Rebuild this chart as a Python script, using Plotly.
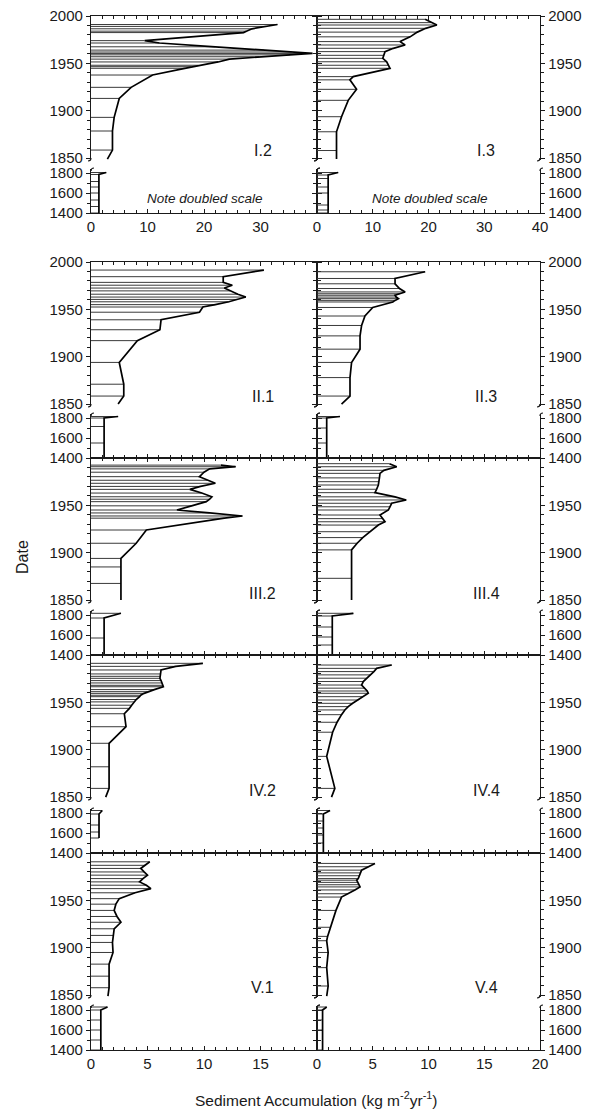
import plotly.graph_objects as go

# page is 592x1112; the html body has an 8px margin, so the figure is drawn 8px in
W, H = 592, 1112
OFF = 8
FW, FH = W - OFF, H - OFF

# ---------------- data (Date vs sediment accumulation, kg m-2 yr-1) ----------------
I2_up_dates = [1991, 1989, 1986.5, 1984, 1982.5, 1974, 1971.5, 1967.5, 1964, 1962, 1960.5, 1959, 1957,
               1954.5, 1951.5, 1948, 1946.5, 1944.8, 1937.7, 1924.7, 1913, 1893, 1878.6, 1858.5, 1849]
I2_up_vals = [33.0, 31.0, 28.5, 27.5, 27.0, 9.5, 12.1, 22.0, 30.6, 35.5, 39.2, 35.2, 29.8,
              24.5, 22.5, 19.0, 17.8, 16.6, 10.9, 7.1, 5.0, 4.1, 3.8, 3.8, 2.9]
I2_lo_dates = [1805, 1785, 1715, 1660, 1600, 1530, 1465, 1400]
I2_lo_vals = [2.7, 1.4, 1.4, 1.4, 1.4, 1.4, 1.4, 1.4]

I3_up_dates = [1996.5, 1993, 1990.5, 1987, 1983, 1978, 1973, 1969.4, 1965.9, 1962.4, 1958.5, 1955.3,
               1951.7, 1948, 1944.8, 1936, 1932.6, 1922.6, 1911, 1893.7, 1877.8, 1858, 1849]
I3_up_vals = [19.4, 20.5, 21.5, 19.5, 18.0, 16.7, 14.9, 15.8, 13.7, 12.2, 12.0, 11.8,
              12.5, 12.8, 13.1, 6.5, 5.9, 7.1, 5.6, 4.4, 3.5, 3.5, 3.5]
I3_lo_dates = [1805, 1780, 1745, 1660, 1600, 1480, 1430, 1400]
I3_lo_vals = [3.8, 2.0, 2.0, 2.0, 2.0, 2.0, 2.0, 2.0]

II1_up_dates = [1991.5, 1984.5, 1978.5, 1975.5, 1972.5, 1969.5, 1966, 1963, 1960.5, 1958, 1955,
                1952.5, 1947, 1939, 1928.5, 1917, 1894, 1871, 1858.5, 1850]
II1_up_vals = [15.3, 11.7, 11.7, 12.5, 11.8, 12.3, 13.0, 13.7, 13.0, 12.2, 11.0,
               9.9, 9.6, 6.2, 6.1, 4.1, 2.5, 2.9, 2.9, 2.4]
II1_lo_dates = [1815, 1800, 1715, 1550, 1400]
II1_lo_vals = [2.4, 1.16, 1.16, 1.16, 1.16]

II3_up_dates = [1989.7, 1982.6, 1977, 1972, 1968.4, 1966.5, 1964.9, 1963, 1961.3, 1959.5, 1957.8,
                1952, 1943, 1933, 1922, 1908, 1894, 1878, 1858.5, 1850]
II3_up_vals = [9.7, 7.0, 7.0, 7.4, 7.9, 7.4, 7.0, 7.1, 7.3, 7.0, 6.8,
               5.0, 4.3, 4.0, 3.86, 3.86, 3.1, 2.96, 2.96, 2.2]
II3_lo_dates = [1815, 1800, 1700, 1550, 1400]
II3_lo_vals = [2.06, 0.87, 0.87, 0.87, 0.87]

III2_up_dates = [1992.5, 1990.8, 1988.5, 1985, 1980.3, 1976.5, 1973.3, 1970, 1966.9, 1963, 1959.1,
                 1956.5, 1953.9, 1949.5, 1945.1, 1942, 1938.8, 1936.5, 1924, 1910, 1894, 1885,
                 1867.6, 1850]
III2_up_vals = [11.5, 12.8, 10.5, 10.0, 9.6, 10.3, 11.0, 9.7, 8.75, 9.8, 10.7,
                10.5, 10.2, 8.9, 7.6, 10.5, 13.4, 11.8, 4.9, 4.0, 2.65, 2.65,
                2.65, 2.65]
III2_lo_dates = [1817, 1770, 1570, 1400]
III2_lo_vals = [2.65, 1.16, 1.16, 1.16]

III4_up_dates = [1994, 1990.8, 1987, 1983.8, 1979, 1975, 1971.5, 1967, 1963.4, 1959, 1955.7, 1952.2,
                 1948.5, 1945.1, 1939.8, 1936, 1932.7, 1929.2, 1922.2, 1916, 1910, 1903, 1873, 1850]
III4_up_vals = [6.5, 7.15, 6.0, 5.65, 5.6, 5.55, 5.5, 5.35, 5.2, 7.0, 8.0, 6.7,
                6.55, 6.4, 5.65, 5.9, 6.1, 5.5, 4.75, 4.1, 3.6, 3.1, 3.1, 3.1]
III4_lo_dates = [1817, 1790, 1680, 1580, 1500, 1400]
III4_lo_vals = [3.26, 1.37, 1.37, 1.37, 1.37, 1.37]

IV2_up_dates = [1991.2, 1988, 1984.2, 1980, 1977.5, 1975.4, 1973, 1970.5, 1968, 1966.5, 1963.5,
                1961.3, 1959.5, 1957.5, 1956, 1953, 1950.5, 1947, 1943.7, 1938, 1924.3, 1906.8,
                1882, 1859.2, 1850]
IV2_up_vals = [9.9, 7.5, 6.2, 6.15, 6.1, 6.1, 6.2, 6.3, 6.4, 6.4, 5.6,
               5.0, 4.7, 4.4, 4.3, 4.0, 3.8, 3.6, 3.4, 2.95, 3.1, 1.6,
               1.6, 1.6, 1.3]
IV2_lo_dates = [1825, 1790, 1680, 1610, 1550]
IV2_lo_vals = [1.0, 0.71, 0.71, 0.71, 0.71]

IV4_up_dates = [1989.4, 1985.9, 1982.5, 1979, 1975.5, 1972, 1968.3, 1965, 1962, 1959.6, 1956, 1952.5,
                1949, 1945.5, 1942, 1937, 1929, 1918.5, 1893, 1859.2, 1850]
IV4_up_vals = [6.7, 5.35, 5.1, 4.8, 4.45, 4.15, 4.0, 4.3, 4.5, 4.6, 4.1, 3.7,
               3.2, 2.8, 2.5, 2.2, 1.8, 1.4, 0.87, 1.6, 1.3]
IV4_lo_dates = [1825, 1790, 1720, 1650, 1580, 1500, 1400]
IV4_lo_vals = [1.17, 0.57, 0.57, 0.57, 0.57, 0.57, 0.57]

V1_up_dates = [1990.7, 1987, 1983.7, 1980, 1976.6, 1973, 1969.5, 1966, 1962.4, 1958, 1951.8, 1946,
               1939.4, 1933, 1926.9, 1920, 1913, 1905.6, 1895, 1882.7, 1870, 1857.8, 1849]
V1_up_vals = [5.2, 4.8, 4.4, 4.7, 5.0, 4.6, 4.3, 4.9, 5.3, 3.9, 2.5, 2.2,
              2.05, 2.3, 2.65, 2.05, 1.95, 1.9, 1.95, 1.6, 1.6, 1.6, 1.5]
V1_lo_dates = [1830, 1800, 1700, 1600, 1500, 1400]
V1_lo_vals = [1.46, 0.87, 0.87, 0.87, 0.87, 0.87]

V4_up_dates = [1989, 1985.5, 1981.9, 1979, 1976, 1973, 1971.3, 1969, 1966.5, 1964.2, 1961, 1957,
               1953.5, 1939.4, 1921.6, 1912, 1907.4, 1895, 1879, 1859.6, 1849]
V4_up_vals = [5.2, 4.6, 4.0, 3.9, 3.8, 3.7, 3.56, 3.65, 3.75, 3.86, 3.4, 2.8,
              2.2, 1.7, 1.17, 0.95, 0.87, 1.0, 0.87, 1.0, 0.87]
V4_lo_dates = [1830, 1800, 1700, 1600, 1400]
V4_lo_vals = [0.87, 0.5, 0.5, 0.5, 0.5]

panel_names = ["I.2", "I.3", "II.1", "II.3", "III.2", "III.4", "IV.2", "IV.4", "V.1", "V.4"]
x_max = [40, 40, 20, 20, 20, 20, 20, 20, 20, 20]
upper_tick_years = [1850, 1900, 1950, 2000]
lower_tick_years = [1400, 1600, 1800]
x_label_title = "Sediment Accumulation (kg m<sup>-2</sup>yr<sup>-1</sup>)"
y_label_title = "Date"
note_text = "<i>Note doubled scale</i>"

panels = [
    (I2_up_dates, I2_up_vals, I2_lo_dates, I2_lo_vals),
    (I3_up_dates, I3_up_vals, I3_lo_dates, I3_lo_vals),
    (II1_up_dates, II1_up_vals, II1_lo_dates, II1_lo_vals),
    (II3_up_dates, II3_up_vals, II3_lo_dates, II3_lo_vals),
    (III2_up_dates, III2_up_vals, III2_lo_dates, III2_lo_vals),
    (III4_up_dates, III4_up_vals, III4_lo_dates, III4_lo_vals),
    (IV2_up_dates, IV2_up_vals, IV2_lo_dates, IV2_lo_vals),
    (IV4_up_dates, IV4_up_vals, IV4_lo_dates, IV4_lo_vals),
    (V1_up_dates, V1_up_vals, V1_lo_dates, V1_lo_vals),
    (V4_up_dates, V4_up_vals, V4_lo_dates, V4_lo_vals),
]

# ---------------- layout geometry (page pixels) ----------------
row_top = [16, 262, 458, 655, 853]       # pixel of year 2000
row_lo1800 = [173, 418, 615, 813, 1010]  # pixel of year 1800 in the lower strip
col_x = [(91, 317), (317, 540)]
UP_H = 144
UP_RANGE = [1848, 2000]
LO_RANGE = [1400, 1840]

FONT = "Liberation Sans, Arial, Helvetica, sans-serif"
INK = "#1a1a1a"


def fy(px):
    return 1 - (px - OFF) / FH


def fx(px):
    return (px - OFF) / FW


fig = go.Figure()
lay = {}
annotations = []
shapes = []
k = 0
for i, (ud, uv, ld, lv) in enumerate(panels):
    r, c = divmod(i, 2)
    xmax = x_max[i]
    x0, x1 = col_x[c]
    xdom = [fx(x0), fx(x1)]
    side = "left" if c == 0 else "right"
    minor_dx = xmax / 20
    major_dx = xmax / 4
    xticks = [major_dx * j for j in range(5)]
    if c == 0:
        xticks = xticks[:-1]
    show_xlab = (r == 0 or r == 4)

    for part in ("up", "lo"):
        k += 1
        xa = "x" if k == 1 else f"x{k}"
        ya = "y" if k == 1 else f"y{k}"
        xkey = "xaxis" if k == 1 else f"xaxis{k}"
        ykey = "yaxis" if k == 1 else f"yaxis{k}"
        if part == "up":
            dates, vals = ud, uv
            top = row_top[r]
            ydom = [fy(top + UP_H), fy(top)]
            yr = UP_RANGE
            yt = upper_tick_years if r < 2 else upper_tick_years[:-1]
            ymin = 10
            bars = [(d, v) for d, v in zip(dates, vals) if d > 1850]
        else:
            dates, vals = ld, lv
            l8 = row_lo1800[r]
            ydom = [fy(l8 + 40), fy(l8 - 4)]
            yr = LO_RANGE
            yt = lower_tick_years
            ymin = 100
            bars = list(zip(dates, vals))

        bx, by = [], []
        for d, v in bars:
            bx += [0, v, None]
            by += [d, d, None]
        fig.add_trace(go.Scatter(x=bx, y=by, mode="lines", xaxis=xa, yaxis=ya,
                                 line=dict(color="#3a3a3a", width=1), hoverinfo="skip",
                                 showlegend=False))
        fig.add_trace(go.Scatter(x=vals, y=dates, mode="lines", xaxis=xa, yaxis=ya,
                                 line=dict(color="black", width=1.7), showlegend=False))

        xcfg = dict(domain=xdom, range=[0, xmax], anchor=ya, showgrid=False, zeroline=False,
                    automargin=False, ticklabeloverflow="allow",
                    showline=True, linecolor=INK, linewidth=1.3, ticks="inside", ticklen=4,
                    tickcolor=INK, tickwidth=1, tickvals=xticks,
                    ticktext=[("%g" % v) for v in xticks],
                    minor=dict(dtick=minor_dx, tick0=0, ticks="inside", ticklen=2.5,
                               tickcolor=INK, tickwidth=1),
                    tickfont=dict(family=FONT, size=15, color=INK), fixedrange=True)
        if part == "up":
            xcfg.update(side="top", showticklabels=False)
        else:
            xcfg.update(side="bottom", showticklabels=show_xlab)
        lay[xkey] = xcfg

        lay[ykey] = dict(domain=ydom, range=yr, anchor=xa, side=side, showgrid=False,
                         automargin=False, ticklabeloverflow="allow",
                         zeroline=False, showline=True, linecolor=INK, linewidth=1.3,
                         mirror="ticks", ticks="outside", ticklen=4, tickcolor=INK,
                         tickwidth=1, tickvals=yt, ticktext=[str(v) for v in yt],
                         minor=dict(dtick=ymin, tick0=1400, ticks="outside", ticklen=2.5,
                                    tickcolor=INK, tickwidth=1),
                         tickfont=dict(family=FONT, size=15, color=INK), fixedrange=True)

    # axis-break curls on the vertical axes
    for xa_px in (x0, x1):
        yb = row_top[r] + UP_H
        shapes.append(dict(type="path", xref="paper", yref="paper",
                           path=f"M {fx(xa_px)},{fy(yb - 2)} Q {fx(xa_px)},{fy(yb + 1)} {fx(xa_px - 3)},{fy(yb + 1)}",
                           line=dict(color=INK, width=1.2)))
        yt_px = row_lo1800[r] - 4
        shapes.append(dict(type="path", xref="paper", yref="paper",
                           path=f"M {fx(xa_px)},{fy(yt_px + 2)} Q {fx(xa_px)},{fy(yt_px - 1)} {fx(xa_px + 3)},{fy(yt_px - 1)}",
                           line=dict(color=INK, width=1.2)))

    # panel label
    lx = x0 + 0.76 * (x1 - x0)
    ly = row_top[r] + 135
    annotations.append(dict(x=fx(lx), y=fy(ly), xref="paper", yref="paper",
                            text=panel_names[i], showarrow=False,
                            font=dict(family=FONT, size=16, color=INK),
                            xanchor="center", yanchor="middle"))
    if r == 0:
        annotations.append(dict(x=fx((x0 + x1) / 2 + 1), y=fy(199), xref="paper", yref="paper",
                                text=note_text, showarrow=False,
                                font=dict(family=FONT, size=13.5, color=INK),
                                xanchor="center", yanchor="middle"))

annotations.append(dict(x=fx(316), y=fy(1099), xref="paper", yref="paper", text=x_label_title,
                        showarrow=False, font=dict(family=FONT, size=15.5, color=INK),
                        xanchor="center", yanchor="middle"))
annotations.append(dict(x=fx(23), y=fy(557), xref="paper", yref="paper", text=y_label_title,
                        showarrow=False, textangle=-90,
                        font=dict(family=FONT, size=16, color=INK),
                        xanchor="center", yanchor="middle"))

fig.update_layout(width=FW, height=FH, margin=dict(l=0, r=0, t=0, b=0),
                  paper_bgcolor="white", plot_bgcolor="white", showlegend=False,
                  annotations=annotations, shapes=shapes, **lay)

fig.write_html("out.html", config={"displayModeBar": False})
